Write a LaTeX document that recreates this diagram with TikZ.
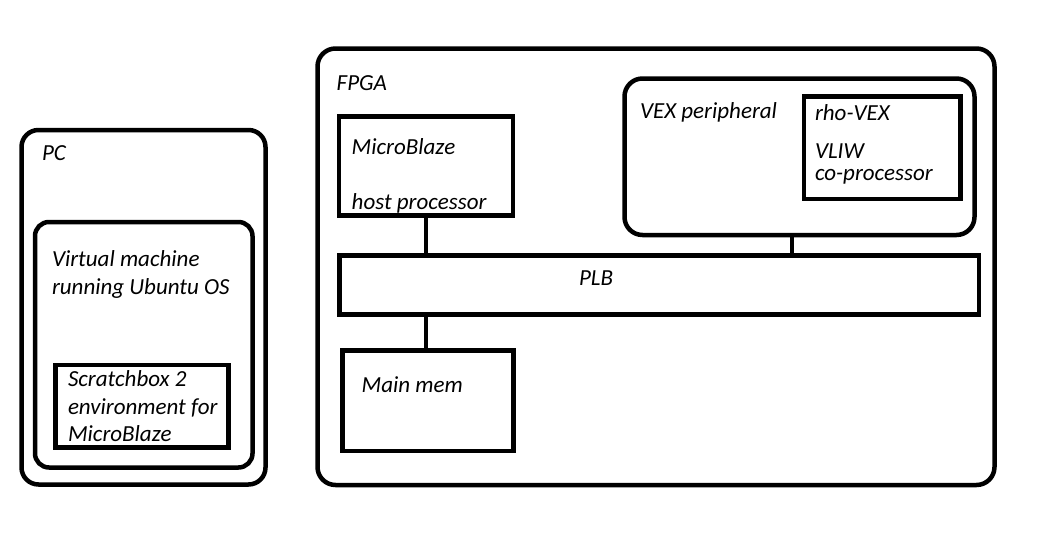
\documentclass[tikz,border=0pt]{standalone}
\usepackage{fontspec}
\setmainfont{Carlito}
\begin{document}
\begin{tikzpicture}[x=1pt,y=-1pt,
  box/.style={draw=black, line width=4.5pt, inner sep=0pt, outer sep=0pt, fill=none},
  rbox/.style={box, rounded corners=17pt},
  lbl/.style={inner sep=0pt, outer sep=0pt, anchor=base west, align=left,
    font=\fontsize{23}{27.5}\selectfont\itshape},
  conn/.style={draw=black, line width=4.5pt}]
\useasboundingbox (0,0) rectangle (1052,554);
% PC side
\node[rbox, minimum width=244pt, minimum height=354.5pt] (pc) at (143.5,307.25) {};
\node[rbox, rounded corners=14pt, minimum width=217.5pt, minimum height=245.5pt] (vm) at (143.75,344.75) {};
\node[box, minimum width=173pt, minimum height=82.5pt] (sb) at (142,406.25) {};
\node[lbl] (pct) at (42,160.7) {PC};
\node[lbl] (vmt) at (52,294) {Virtual machine\\running Ubuntu OS};
\node[lbl] (sbt) at (68,441.7) {Scratchbox 2\\environment for\\MicroBlaze};
% FPGA side
\node[rbox, rounded corners=18pt, minimum width=677pt, minimum height=436.5pt] (fpga) at (656,266.75) {};
\node[box, minimum width=174pt, minimum height=99pt] (mb) at (426,166) {};
\node[box, minimum width=639.5pt, minimum height=59pt] (plb) at (659.25,285) {};
\node[box, minimum width=171pt, minimum height=100.5pt] (mm) at (428,400.75) {};
\node[rbox, rounded corners=18pt, minimum width=350pt, minimum height=156.5pt] (vex) at (799.5,156.75) {};
\node[box, minimum width=156.5pt, minimum height=102.5pt] (rho) at (882.25,147.75) {};
\node[lbl] (fpgat) at (336.7,90) {FPGA};
\node[lbl] (mbt) at (351.7,209) {MicroBlaze\\[27.5pt]host processor};
\node[lbl] (plbt) at (579,285) {PLB};
\node[lbl] (mmt) at (361.7,392.7) {Main mem};
\node[lbl] (vext) at (640,118.3) {VEX peripheral};
\node[lbl] (rhot) at (815,120) {rho-VEX};
\node[lbl, font=\fontsize{23}{21.7}\selectfont\itshape] (vliwt) at (815,180) {VLIW\\co-processor};
% connectors
\draw[conn] (mb.south) -- (mb.south |- plb.north);
\draw[conn] (mb.south |- plb.south) -- (mb.south |- mm.north);
\draw[conn] ([xshift=-7.5pt]vex.south) -- ([xshift=-7.5pt]vex.south |- plb.north);
\end{tikzpicture}
\end{document}
